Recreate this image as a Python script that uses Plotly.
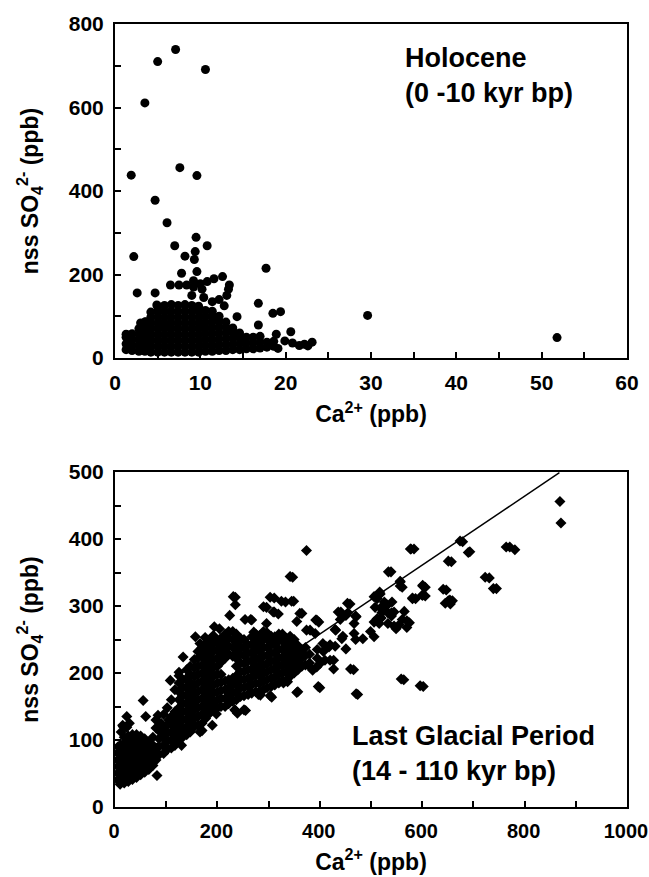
import plotly.graph_objects as go

# ---------------- Holocene (top panel) ----------------
# isolated points (Ca2+, nss SO4 2-)
holo_out_x = [7.1, 5.0, 10.6, 3.5, 1.9, 7.6, 9.6, 4.7, 6.1, 9.5, 10.8, 7.0, 2.2, 8.2, 9.3, 9.4, 17.7,
              2.6, 4.7, 9.6, 7.8, 6.5, 7.5, 8.4, 9.2, 9.2, 10.8, 11.6, 12.6, 13.1, 13.3, 13.4,
              10.4, 11.4, 12.2, 12.8, 10.2, 10.0, 9.0, 14.3, 16.8, 18.5, 19.4, 16.8, 18.9, 20.6,
              19.9, 20.8, 21.6, 22.2, 23.1, 22.6, 19.1, 29.6, 51.8, 4.9, 3.0, 3.6, 1.3, 1.7]
holo_out_y = [739, 710, 691, 611, 438, 456, 437, 378, 324, 289, 269, 269, 243, 244, 236, 255, 215,
              156, 156, 207, 203, 175, 175, 175, 185, 170, 183, 190, 195, 150, 165, 175,
              145, 135, 140, 125, 165, 178, 150, 99, 131, 107, 111, 79, 57, 63,
              41, 36, 30, 33, 38, 29, 23, 102, 49, 127, 84, 87, 57, 55]

# dense cloud, listed column by column (Ca2+ value, list of SO4 values)
holo_cloud_cols = [
    (1.3, [20, 34, 50]),
    (2.0, [18, 32, 46, 58]),
    (2.8, [16, 30, 44, 58, 70]),
    (3.5, [16, 30, 44, 58, 72, 86]),
    (4.2, [14, 28, 42, 56, 70, 84, 98, 110]),
    (5.0, [14, 28, 42, 56, 70, 84, 98, 112, 124]),
    (5.8, [14, 28, 42, 56, 70, 84, 98, 112, 126]),
    (6.6, [14, 28, 42, 56, 70, 84, 98, 112, 128]),
    (7.4, [14, 28, 42, 56, 70, 84, 98, 112, 126]),
    (8.2, [14, 28, 42, 56, 70, 84, 98, 112, 128]),
    (9.0, [14, 28, 42, 56, 70, 84, 98, 112, 126]),
    (9.8, [14, 28, 42, 56, 70, 84, 98, 112, 124]),
    (10.6, [16, 30, 44, 58, 72, 86, 100, 114]),
    (11.4, [16, 30, 44, 58, 72, 86, 100, 112]),
    (12.2, [18, 32, 46, 60, 74, 88, 100]),
    (13.0, [18, 32, 46, 60, 74, 86]),
    (13.8, [20, 34, 48, 62, 72]),
    (14.6, [20, 34, 48, 60]),
    (15.4, [22, 36, 50]),
    (16.2, [22, 36, 50]),
    (17.0, [24, 38, 52]),
    (17.8, [26, 38]),
    (18.6, [28, 40]),
]

# ---------------- Last Glacial Period (bottom panel) ----------------
glac_out_x = [869, 871, 693, 679, 584, 374, 771, 781, 657, 347, 539, 731, 745, 561, 606, 647, 651, 659,
              655, 606, 587, 541, 518, 512, 508, 520, 512, 533, 545, 561, 549, 533, 575, 516, 506, 484,
              459, 467, 441, 451, 471, 431, 443, 451, 467, 398, 391, 406, 418, 410, 427, 394, 427, 386,
              466, 400, 564, 602, 474, 357, 374, 365, 349, 333, 311, 311, 319, 296, 296, 267, 271,
              235, 235, 224, 204, 194, 157, 176, 166, 133, 125, 108, 55, 23, 15, 23, 60, 80, 84, 82,
              130, 125, 166, 170, 190, 198, 235, 239, 255, 284, 306, 281, 304, 337, 337, 355,
              342, 231, 303, 325, 345, 290, 309, 361, 265, 254, 355, 392, 436, 454, 506, 534, 557,
              577, 601, 600, 581, 521, 526, 531, 506, 520, 545, 570, 540, 440, 455, 470, 430, 445,
              470, 499, 460, 397, 471, 559, 596, 355, 303, 280, 329, 234, 252, 381, 400, 420, 407,
              413, 381, 394, 420, 430, 578, 674, 690, 764, 651, 557, 557, 517, 601, 601, 581, 641,
              645, 654, 723, 739, 521, 530, 540, 555, 565, 570]
glac_out_y = [456, 424, 381, 396, 385, 383, 388, 384, 366, 343, 351, 342, 326, 328, 328, 324, 308, 308,
              303, 315, 311, 306, 318, 311, 298, 296, 281, 290, 291, 280, 266, 274, 275, 274, 254, 251,
              303, 274, 291, 286, 284, 264, 251, 236, 259, 276, 259, 244, 239, 219, 219, 209, 206, 204,
              205, 178, 190, 180, 168, 172, 264, 289, 307, 306, 312, 291, 288, 298, 274, 279, 261,
              313, 302, 286, 266, 269, 254, 253, 244, 224, 201, 189, 159, 135, 122, 119, 135, 130, 137, 47,
              92, 105, 112, 114, 122, 139, 144, 140, 144, 167, 164, 204, 249, 187, 204, 204,
              344, 314, 313, 307, 307, 299, 291, 289, 280, 280, 277, 279, 291, 304, 314, 351, 336,
              385, 331, 316, 311, 299, 306, 302, 276, 282, 270, 278, 290, 280, 290, 285, 265, 255,
              250, 262, 206, 180, 169, 191, 181, 171, 166, 168, 185, 145, 145, 209, 214, 219, 232,
              239, 264, 279, 242, 240, 385, 397, 380, 388, 367, 337, 330, 321, 330, 316, 312, 325,
              304, 309, 343, 326, 290, 300, 285, 272, 292, 268]

# dense clouds, column by column (Ca2+ value, list of SO4 values)
glac_cloud_cols = [
    (6, [40, 50, 60, 70, 80, 90]),
    (10, [34, 44, 54, 64, 74, 84, 92]),
    (12, [112]),
    (16, [120]),
    (18, [36, 46, 56, 66, 76, 86, 96, 104]),
    (26, [38, 48, 58, 68, 78, 88, 98, 106]),
    (28, [125]),
    (34, [41, 51, 61, 71, 81, 91, 101, 108]),
    (42, [44, 54, 64, 74, 84, 94, 104, 108]),
    (50, [48, 58, 68, 78, 88, 98, 106]),
    (58, [52, 62, 72, 82, 92, 102]),
    (66, [56, 66, 76, 86, 96]),
    (74, [62, 72, 82, 92, 104]),
    (80, [70, 80, 88, 118]),
    (86, [78, 90, 102]),
    (88, [112]),
    (90, [125]),
    (95, [80, 92, 104, 115, 138]),
    (102, [86, 98, 110, 122, 148]),
    (105, [130]),
    (110, [88, 100, 112, 124, 135, 160]),
    (117, [92, 104, 116, 128, 142, 175]),
    (125, [100, 112, 124, 136, 148, 160, 172, 185, 196]),
    (132, [104, 116, 130, 142, 154, 166, 178, 190]),
    (140, [108, 120, 132, 144, 156, 168, 180, 192, 205]),
    (147, [112, 126, 138, 150, 162, 174, 186, 198, 210]),
    (155, [120, 132, 145, 158, 170, 182, 195, 208, 220]),
    (162, [122, 135, 148, 160, 172, 185, 198, 210, 222, 232]),
    (170, [125, 138, 150, 162, 175, 188, 200, 212, 225, 238]),
    (177, [132, 145, 158, 170, 182, 195, 208, 220, 232, 244]),
    (185, [140, 152, 165, 178, 190, 202, 215, 228, 240, 250]),
    (192, [145, 158, 170, 182, 195, 208, 220, 232, 244, 256]),
    (200, [148, 160, 172, 185, 198, 210, 222, 235, 248]),
    (207, [150, 162, 174, 186, 198, 216, 228, 240, 252]),
    (215, [150, 162, 175, 188, 222, 235, 248, 258]),
    (222, [154, 166, 178, 190, 228, 240, 252, 262]),
    (230, [158, 170, 182, 192, 225, 238, 250, 262]),
    (237, [160, 172, 184, 196, 210, 222, 234, 246, 258]),
    (245, [165, 178, 190, 202, 215, 228, 240, 252]),
    (252, [166, 178, 190, 202, 214, 226, 238, 250]),
    (260, [168, 180, 192, 205, 218, 230, 242]),
    (267, [170, 182, 194, 206, 218, 230, 242, 254]),
    (275, [172, 185, 198, 210, 222, 235, 248, 258]),
    (282, [172, 184, 196, 208, 220, 232, 244, 256]),
    (290, [175, 188, 200, 212, 225, 238, 250, 262]),
    (297, [178, 190, 202, 214, 226, 238, 250, 260]),
    (305, [180, 192, 205, 218, 230, 242, 255]),
    (312, [182, 194, 206, 218, 230, 242, 254]),
    (320, [185, 198, 210, 222, 235, 248, 258]),
    (327, [188, 200, 212, 224, 236, 248, 258]),
    (335, [190, 202, 215, 228, 240, 252]),
    (342, [195, 207, 219, 231, 243, 255]),
    (350, [200, 212, 225, 238, 250]),
    (357, [205, 217, 229, 241]),
    (365, [210, 222, 235]),
    (372, [212, 226, 238]),
    (380, [215, 228]),
    (395, [222, 235]),
]

# regression line end points
line_x = [15, 868]
line_y = [60, 499]

# axis titles and panel texts
x_title = "<b>Ca<sup>2+</sup> (ppb)</b>"
y_title = "<b>nss SO<sub>4</sub><sup>2-</sup> (ppb)</b>"
holo_label = "<b>Holocene<br>(0 -10 kyr bp)</b>"
glac_label = "<b>Last Glacial Period<br>(14 - 110 kyr bp)</b>"


def expand(cols):
    xs, ys = [], []
    for cx, cys in cols:
        for cy in cys:
            xs.append(cx)
            ys.append(cy)
    return xs, ys


hc_x, hc_y = expand(holo_cloud_cols)
gc_x, gc_y = expand(glac_cloud_cols)

FONT = "Liberation Sans, Arial, Helvetica, sans-serif"

fig = go.Figure()
fig.add_trace(go.Scatter(x=hc_x + holo_out_x, y=hc_y + holo_out_y, mode="markers",
                         marker=dict(symbol="circle", size=9, color="black"),
                         xaxis="x", yaxis="y", showlegend=False))
fig.add_trace(go.Scatter(x=line_x, y=line_y, mode="lines",
                         line=dict(color="black", width=1.5),
                         xaxis="x2", yaxis="y2", showlegend=False))
fig.add_trace(go.Scatter(x=gc_x + glac_out_x, y=gc_y + glac_out_y, mode="markers",
                         marker=dict(symbol="diamond", size=8.5, color="black"),
                         xaxis="x2", yaxis="y2", showlegend=False))

titlefont = dict(family=FONT, size=23, color="black")


def ax(rng, dtick, mdtick, title, standoff, fsize, shift=0):
    return dict(range=rng, dtick=dtick, showline=True, linecolor="black", linewidth=2,
                mirror=True, ticks="inside", ticklen=6, tickwidth=1.5, tickcolor="black",
                showgrid=False, zeroline=False,
                tickfont=dict(family=FONT, size=fsize, color="black", weight="bold"),
                ticklabelstandoff=5, ticklabeloverflow="allow", ticklabelshift=shift,
                minor=dict(dtick=mdtick, ticks="inside", ticklen=6, tickwidth=1.5,
                           tickcolor="black", showgrid=False),
                title=dict(text=title, font=titlefont, standoff=standoff))


fig.update_layout(
    width=649, height=877,
    margin=dict(l=115, r=22, t=24, b=70, autoexpand=False),
    plot_bgcolor="white", paper_bgcolor="white",
    xaxis=dict(ax([0, 60], 10, 5, x_title, 13, 21), anchor="y", domain=[0, 1]),
    yaxis=dict(ax([0, 800], 200, 100, y_title, 24, 21), anchor="x", domain=[0.5734, 1]),
    xaxis2=dict(ax([0, 1000], 200, 100, x_title, 13, 20, -1), anchor="y2", domain=[0, 1]),
    yaxis2=dict(ax([0, 500], 100, 50, y_title, 24, 21), anchor="x2", domain=[0, 0.4278]),
    annotations=[
        dict(text=holo_label, x=33.7, y=677, xref="x", yref="y", xanchor="left",
             yanchor="middle", align="left", showarrow=False,
             font=dict(family=FONT, size=27, color="black")),
        dict(text=glac_label, x=459, y=80, xref="x2", yref="y2", xanchor="left",
             yanchor="middle", align="left", showarrow=False,
             font=dict(family=FONT, size=27, color="black")),
    ],
)

# remove the default page margin so the figure sits at the window's top-left corner
fig.write_html("out.html", config={"displayModeBar": False},
               post_script="document.body.style.margin='0px';")
